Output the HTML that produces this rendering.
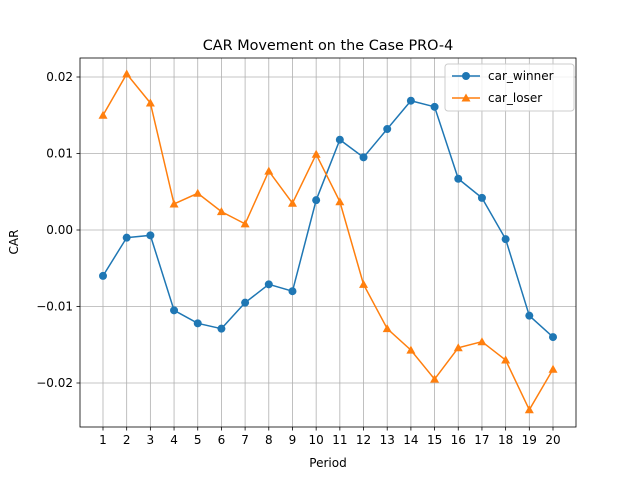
<!DOCTYPE html>
<html><head><meta charset="utf-8"><style>body{margin:0;background:#fff}svg{font-family:"DejaVu Sans","Liberation Sans",sans-serif}</style></head>
<body>
<svg id="c" width="640" height="480"></svg>
<script>
const periods=[1,2,3,4,5,6,7,8,9,10,11,12,13,14,15,16,17,18,19,20];
const carWinner=[-0.0060,-0.0010,-0.0007,-0.0105,-0.0122,-0.0129,-0.0095,-0.0071,-0.0080,0.0039,0.0118,0.0095,0.0132,0.0169,0.0161,0.0067,0.0042,-0.0012,-0.0112,-0.0140];
const carLoser=[0.0150,0.0204,0.0166,0.0034,0.0048,0.0024,0.0008,0.0077,0.0035,0.0099,0.0037,-0.0071,-0.0129,-0.0157,-0.0195,-0.0154,-0.0146,-0.0170,-0.0235,-0.0182];
const yTicks=[-0.02,-0.01,0.00,0.01,0.02];
const yTickLabels=["\u22120.02","\u22120.01","0.00","0.01","0.02"];
const L=80,R=576,T=58,B=427;
const xs=v=>103+(v-1)*(450/19);
const ys=v=>230-v*7650;
const svg=document.getElementById('c');
const NS='http://www.w3.org/2000/svg';
function mk(t,a,p){const e=document.createElementNS(NS,t);for(const k in a)e.setAttribute(k,a[k]);(p||svg).appendChild(e);return e;}
const grid=mk('g',{});
periods.forEach(p=>{mk('line',{x1:xs(p),x2:xs(p),y1:T,y2:B,stroke:'#b0b0b0','stroke-width':0.8},grid);
 mk('line',{x1:xs(p),x2:xs(p),y1:B,y2:B+3.5,stroke:'#000','stroke-width':0.8});
 const t=mk('text',{x:xs(p),y:B+17,'text-anchor':'middle','font-size':12});t.textContent=p;});
yTicks.forEach((v,i)=>{mk('line',{x1:L,x2:R,y1:ys(v),y2:ys(v),stroke:'#b0b0b0','stroke-width':0.8},grid);
 mk('line',{x1:L-3.5,x2:L,y1:ys(v),y2:ys(v),stroke:'#000','stroke-width':0.8});
 const t=mk('text',{x:L-7,y:ys(v)+4,'text-anchor':'end','font-size':12});t.textContent=yTickLabels[i];});
function series(vals,color,marker,name){
 const g=mk('g',{});
 mk('polyline',{points:vals.map((v,i)=>xs(periods[i])+','+ys(v)).join(' '),fill:'none',stroke:color,'stroke-width':1.5},g);
 vals.forEach((v,i)=>{const x=xs(periods[i]),y=ys(v);
  if(marker==='o')mk('circle',{cx:x,cy:y,r:4,fill:color},g);
  else mk('polygon',{points:`${x},${y-4.5} ${x-4.5},${y+3.5} ${x+4.5},${y+3.5}`,fill:color},g);});
}
series(carWinner,'#1f77b4','o','car-winner-series');
series(carLoser,'#ff7f0e','^','car-loser-series');
const fr=mk('rect',{x:L,y:T,width:R-L,height:B-T,fill:'none',stroke:'#000','stroke-width':0.8});
let t=mk('text',{x:328,y:50,'text-anchor':'middle','font-size':14.4});t.textContent='CAR Movement on the Case PRO-4';
t=mk('text',{x:328,y:467,'text-anchor':'middle','font-size':12});t.textContent='Period';
t=mk('text',{x:18,y:242,'text-anchor':'middle','font-size':12,transform:'rotate(-90 18 242)'});t.textContent='CAR';
const lg=mk('g',{});
mk('rect',{x:445,y:64,width:129,height:47,rx:3,fill:'#fff','fill-opacity':0.8,stroke:'#ccc'},lg);
mk('line',{x1:452,x2:480,y1:76,y2:76,stroke:'#1f77b4','stroke-width':1.5},lg);mk('circle',{cx:466,cy:76,r:4,fill:'#1f77b4'},lg);
t=mk('text',{x:488,y:80,'font-size':12},lg);t.textContent='car_winner';
mk('line',{x1:452,x2:480,y1:98,y2:98,stroke:'#ff7f0e','stroke-width':1.5},lg);mk('polygon',{points:'466,93.5 461.5,101.5 470.5,101.5',fill:'#ff7f0e'},lg);
t=mk('text',{x:488,y:102,'font-size':12},lg);t.textContent='car_loser';
</script>
</body></html>
